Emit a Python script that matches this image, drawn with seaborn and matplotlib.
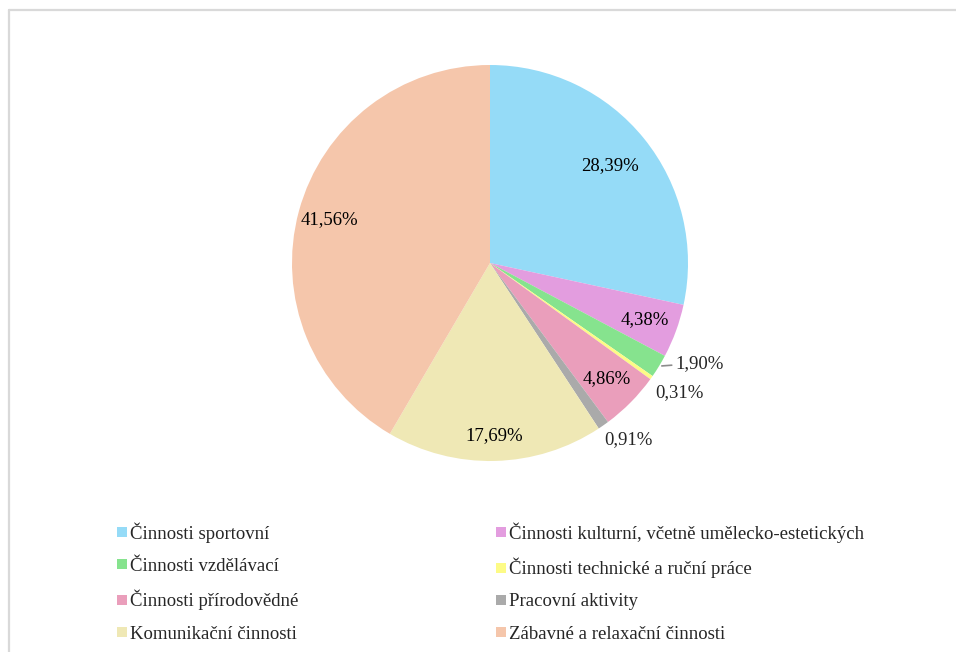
import numpy as np
import matplotlib.pyplot as plt
import seaborn as sns
from matplotlib.lines import Line2D

# data
categories = [
    "Činnosti sportovní",
    "Činnosti kulturní, včetně umělecko-estetických",
    "Činnosti vzdělávací",
    "Činnosti technické a ruční práce",
    "Činnosti přírodovědné",
    "Pracovní aktivity",
    "Komunikační činnosti",
    "Zábavné a relaxační činnosti",
]
shares = [28.39, 4.38, 1.90, 0.31, 4.86, 0.91, 17.69, 41.56]
pct_labels = ["28,39%", "4,38%", "1,90%", "0,31%", "4,86%", "0,91%", "17,69%", "41,56%"]
colors = ["#95dbf7", "#e39ddf", "#86e38e", "#fdfb86", "#ea9ebb", "#aaaaaa", "#efe8b5", "#f5c6ab"]

sns.set_theme(style="white")
plt.rcParams['font.family'] = ['Liberation Serif', 'DejaVu Serif']
FS = 13.5

fig = plt.figure(figsize=(9.56, 6.52), dpi=100)
W, H = 956, 652
cx, cy, r = 490, 263, 198
ax = fig.add_axes([(cx - r) / W, (H - cy - r) / H, 2 * r / W, 2 * r / H])

wedges, _ = ax.pie(shares, colors=colors, startangle=90, counterclock=False,
                   radius=1, wedgeprops=dict(linewidth=0))
ax.set_xlim(-1, 1)
ax.set_ylim(-1, 1)
ax.set_aspect('equal')
ax.axis('off')

# inside labels: radial distance; outside labels: pixel offset from wedge edge
inside = {0: 0.78, 1: 0.83, 4: 0.83, 6: 0.87, 7: 0.84}
outside = {2: (16, 3), 3: (28, -15), 5: (25, -14)}

for i, w in enumerate(wedges):
    mid = np.deg2rad((w.theta1 + w.theta2) / 2)
    if i in inside:
        d = inside[i]
        ax.text(d * np.cos(mid), d * np.sin(mid), pct_labels[i],
                ha='center', va='center', fontsize=FS, color='black')
    else:
        dx, dy = outside[i]
        if i == 2:
            ax.annotate(pct_labels[i], xy=(np.cos(mid), np.sin(mid)),
                        xytext=(dx, dy), textcoords='offset pixels',
                        ha='left', va='center', fontsize=FS,
                        arrowprops=dict(arrowstyle='-', color='#8c8c8c', lw=1.2,
                                        shrinkA=0, shrinkB=2))
        else:
            ax.annotate(pct_labels[i], xy=(np.cos(mid), np.sin(mid)),
                        xytext=(dx, dy), textcoords='offset pixels',
                        ha='center', va='center', fontsize=FS)

# two legend columns, filled row by row
handles = [Line2D([], [], marker='s', linestyle='none', markersize=7.5,
                  markerfacecolor=c, markeredgewidth=0) for c in colors]
leg_kw = dict(frameon=False, fontsize=FS, handlelength=0.6, handletextpad=0.15,
              labelspacing=0.8, borderpad=0, loc='upper left')
leg1 = fig.legend(handles[0::2], categories[0::2],
                  bbox_to_anchor=(106.5 / W, 1 - 513 / H), **leg_kw)
leg2 = fig.legend(handles[1::2], categories[1::2],
                  bbox_to_anchor=(486 / W, 1 - 513 / H), **leg_kw)

# light frame at top and left edge
fig.add_artist(Line2D([8.5 / W, 1], [1 - 9.5 / H, 1 - 9.5 / H], color='#d9d9d9', lw=1.6,
                      transform=fig.transFigure))
fig.add_artist(Line2D([8.5 / W, 8.5 / W], [0, 1 - 9.5 / H], color='#d9d9d9', lw=1.6,
                      transform=fig.transFigure))

fig.savefig("out.png", dpi=100, facecolor='white')
